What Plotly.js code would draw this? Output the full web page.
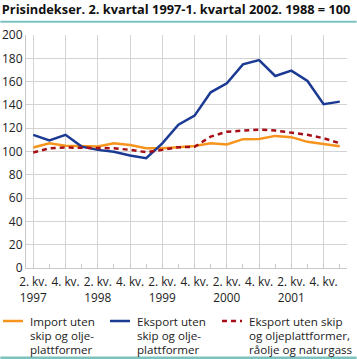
<!DOCTYPE html>
<html><head><meta charset="utf-8">
<script src="https://cdn.plot.ly/plotly-3.0.1.min.js"></script>
<style>html,body{margin:0;padding:0;background:#fff}#c{width:357px;height:359px}</style>
</head><body><div id="c"></div>
<script>
const quarters = ["2. kv. 1997","3. kv. 1997","4. kv. 1997","1. kv. 1998","2. kv. 1998","3. kv. 1998","4. kv. 1998","1. kv. 1999","2. kv. 1999","3. kv. 1999","4. kv. 1999","1. kv. 2000","2. kv. 2000","3. kv. 2000","4. kv. 2000","1. kv. 2001","2. kv. 2001","3. kv. 2001","4. kv. 2001","1. kv. 2002"];
const importValues = [103.4,107.0,105.0,104.6,104.3,107.0,105.5,102.8,102.8,103.7,104.8,107.1,106.0,110.6,110.8,113.4,112.3,108.3,106.3,104.6];
const eksportValues = [114.3,109.6,114.3,104.2,101.4,99.7,96.5,94.3,107.0,123.0,130.8,150.8,158.6,174.8,178.5,164.8,169.4,160.5,140.6,142.8];
const eksportUtenOljeValues = [99.1,102.8,103.4,103.4,102.8,102.8,101.4,99.4,101.4,103.7,104.0,112.8,117.0,118.0,118.8,118.0,116.2,114.3,111.4,107.1];
const tickIdx = [0,2,4,6,8,10,12,14,16,18];
const tickLabels = ["2. kv.<br>1997","4. kv.","2. kv.<br>1998","4. kv.","2. kv.<br>1999","4. kv.","2. kv.<br>2000","4. kv.","2. kv.<br>2001","4. kv."];
const nameLines = [["Import uten","skip og olje-","plattformer"],["Eksport uten","skip og olje-","plattformer"],["Eksport uten skip","og oljeplattformer,","råolje og naturgass"]];
const colors = ['#f7941d','#1b3a93','#a50f15'];
const dashes = ['solid','solid','5px,4px'];

const x = quarters.map((q,i)=>i);
const minorIdx = x.filter(i=>i%2===1);
const F = "'Open Sans', sans-serif";
const series = [importValues, eksportValues, eksportUtenOljeValues];
const traces = series.map((y,k)=>({x, y, name:nameLines[k].join(' '), mode:'lines', showlegend:false, line:{color:colors[k], width:2.5, dash:dashes[k]}}));

// manual legend (paper coordinates)
const legX = [-0.0717, 0.2617, 0.6106];
const lineY = [-0.2275, -0.2897, -0.3519];
const legShapes = legX.map((x0,k)=>({type:'line', xref:'paper', yref:'paper', x0, x1:x0+0.0623, y0:-0.2275, y1:-0.2275, line:{color:colors[k], width:2.5, dash:dashes[k]}}));
const legAnn = [];
legX.forEach((x0,k)=>nameLines[k].forEach((t,j)=>legAnn.push({xref:'paper', yref:'paper', x:x0+0.081, y:lineY[j], xanchor:'left', yanchor:'middle', align:'left', borderpad:0, showarrow:false, text:t, font:{family:F,size:11.6,color:'#222'}})));

const layout = {
 width:357, height:359,
 margin:{l:26, r:10, t:35, b:91},
 paper_bgcolor:'#fff', plot_bgcolor:'#fff',
 font:{family:F, size:12, color:'#222'},
 title:{text:'<b>Prisindekser. 2. kvartal 1997-1. kvartal 2002. 1988 = 100</b>', x:0.005, xanchor:'left', y:0.985, yanchor:'top', font:{family:F, size:12.8, color:'#111'}},
 showlegend:false,
 xaxis:{range:[-0.45,19.45], tickmode:'array', tickvals:tickIdx, ticktext:tickLabels, showgrid:true, gridcolor:'#d3d3d3', gridwidth:1, zeroline:false,
   showline:true, linecolor:'#c8c8c8', ticks:'inside', ticklen:4, tickcolor:'#c8c8c8', ticklabelstandoff:3, tickfont:{family:F,size:11.8,color:'#222'}, fixedrange:true,
   minor:{tickmode:'array', tickvals:minorIdx, ticks:'inside', ticklen:4, tickcolor:'#c8c8c8', showgrid:false}},
 yaxis:{range:[0,200], dtick:20, showgrid:true, gridcolor:'#d3d3d3', gridwidth:1, zeroline:false, showline:true, linecolor:'#c8c8c8', ticks:'', tickfont:{family:F,size:12,color:'#222'}, fixedrange:true},
 shapes:[
  {type:'line', xref:'paper', yref:'paper', x0:-0.08, x1:1.03, y0:1.057, y1:1.057, line:{color:'#7cc3c0', width:2}},
  {type:'line', xref:'paper', yref:'paper', x0:-0.08, x1:1.03, y0:-0.385, y1:-0.385, line:{color:'#7cc3c0', width:2.5}}
 ].concat(legShapes),
 annotations: legAnn
};
Plotly.newPlot('c', traces, layout, {displayModeBar:false, staticPlot:true});
</script></body></html>
